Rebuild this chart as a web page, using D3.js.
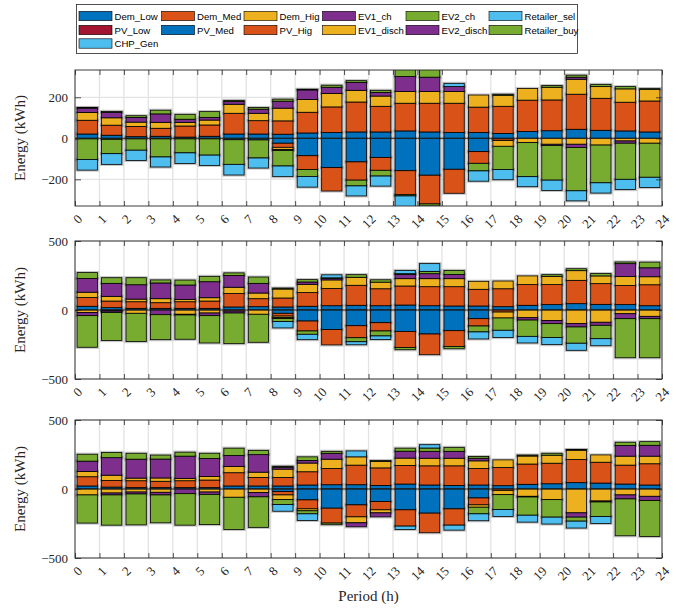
<!DOCTYPE html>
<html>
<head>
<meta charset="utf-8">
<script src="https://cdn.jsdelivr.net/npm/d3@7"></script>
<style>
  body { margin: 0; background: #fff; }
</style>
</head>
<body>
<svg id="chart"></svg>
<script>
// ======================
// DATA
// ======================

const hours = d3.range(24);
const tickLabels = d3.range(25).map(String);

const seriesNames = [
  "Dem_Low", "Dem_Med", "Dem_Hig", "EV1_ch", "EV2_ch", "Retailer_sel",
  "PV_Low", "PV_Med", "PV_Hig", "EV1_disch", "EV2_disch", "Retailer_buy",
  "CHP_Gen"
];
const seriesColors = [
  "#0072BD", "#D95319", "#EDB120", "#7E2F8E", "#77AC30", "#4DBEEE",
  "#A2142F", "#0072BD", "#D95319", "#EDB120", "#7E2F8E", "#77AC30",
  "#4DBEEE"
];

// panel 1
const p1_Dem_Low = [21, 15, 8, 10, 6, 10, 21, 21, 20, 26, 28, 31, 31, 36, 31, 28, 28, 24, 33, 37, 44, 39, 36, 31];
const p1_Dem_Med = [67, 49, 50, 39, 54, 55, 101, 65, 65, 101, 125, 146, 125, 135, 140, 143, 124, 132, 153, 150, 171, 156, 140, 151];
const p1_Dem_Hig = [38, 36, 21, 29, 18, 24, 44, 36, 62, 62, 65, 57, 50, 57, 57, 57, 59, 54, 57, 62, 73, 57, 65, 57];
const p1_EV1_ch = [21, 26, 23, 41, 15, 13, 13, 20, 34, 47, 31, 39, 18, 73, 70, 24, 0, 0, 0, 0, 10, 0, 0, 0];
const p1_EV2_ch = [3, 5, 8, 18, 24, 28, 6, 8, 10, 3, 10, 8, 10, 45, 40, 0, 0, 5, 0, 8, 10, 11, 11, 3];
const p1_Retailer_sel = [0, 0, 0, 0, 0, 0, 0, 0, 0, 0, 0, 0, 0, 0, 0, 16, 0, 0, 0, 0, 0, 0, 0, 0];
const p1_PV_Low = [0, 0, 0, 0, 0, 0, 0, 0, 0, 0, 0, 0, 0, 0, 0, 0, 0, 0, 0, 0, 0, 0, 0, 0];
const p1_PV_Med = [-3, -5, -3, -3, -3, -3, -7, -8, -24, -85, -143, -115, -93, -158, -180, -151, -65, -3, 0, 0, 0, 0, 0, 0];
const p1_PV_Hig = [0, 0, 0, 0, 0, 0, 0, 0, -20, -67, -114, -89, -63, -117, -140, -117, -57, -8, 0, 0, 0, 0, 0, 0];
const p1_EV1_disch = [0, 0, 0, 0, 0, 0, 0, 0, -10, 0, 0, 0, 0, 0, 0, 0, 0, -28, -21, -29, -29, -33, -13, -24];
const p1_EV2_disch = [0, 0, 0, 0, 0, 0, 0, 0, -5, 0, 0, 0, 0, 0, 0, 0, 0, 0, 0, -6, -16, 0, -11, 0];
const p1_Retailer_buy = [-100, -70, -55, -88, -68, -79, -120, -88, -76, -34, 0, -28, -28, -6, -10, 0, -37, -113, -166, -169, -211, -184, -176, -166];
const p1_CHP_Gen = [-52, -52, -50, -49, -52, -50, -52, -49, -52, -52, 0, -49, -49, -52, 0, 0, -50, -50, -49, -50, -49, -50, -50, -50];

// panel 2
const p2_Dem_Low = [27, 17, 12, 12, 12, 12, 22, 24, 22, 27, 31, 34, 31, 36, 31, 29, 29, 24, 34, 39, 46, 41, 39, 31];
const p2_Dem_Med = [63, 48, 48, 41, 48, 53, 97, 58, 65, 99, 125, 145, 123, 138, 138, 140, 121, 130, 150, 145, 169, 150, 138, 152];
const p2_Dem_Hig = [39, 34, 19, 29, 17, 24, 46, 41, 65, 60, 62, 58, 48, 53, 58, 58, 58, 56, 63, 60, 70, 56, 65, 58];
const p2_EV1_ch = [99, 94, 104, 114, 104, 116, 85, 70, 0, 17, 10, 0, 0, 31, 36, 31, 0, 0, 0, 0, 0, 0, 94, 65];
const p2_EV2_ch = [43, 41, 51, 22, 36, 39, 19, 46, 7, 17, 5, 19, 17, 5, 17, 29, 0, 0, 0, 12, 14, 17, 12, 41];
const p2_Retailer_sel = [0, 0, 0, 0, 0, 0, 0, 0, 0, 0, 22, 0, 0, 24, 56, 0, 0, 0, 0, 0, 0, 0, 0, 0];
const p2_PV_Low = [0, 0, 0, 0, 0, 0, 0, 0, 0, 0, 0, 0, 0, 0, 0, 0, 0, 0, 0, 0, 0, 0, 0, 0];
const p2_PV_Med = [0, -3, 0, 0, 0, 0, 0, 0, -24, -80, -142, -114, -92, -155, -174, -150, -63, 0, 0, 0, 0, 0, 0, 0];
const p2_PV_Hig = [0, 0, 0, 0, 0, 0, 0, 0, -20, -72, -111, -87, -60, -116, -150, -114, -53, -15, 0, 0, 0, 0, 0, 0];
const p2_EV1_disch = [-19, -5, -24, 0, -31, -22, -8, -31, -12, 0, 0, 0, 0, 0, 0, 0, 0, -43, -56, -77, -99, -89, -27, -46];
const p2_EV2_disch = [-22, -10, 0, -34, -5, -19, -14, 0, -6, 0, 0, 0, 0, 0, 0, 0, 0, 0, -17, -22, -24, -22, -36, -17];
const p2_Retailer_buy = [-229, -203, -205, -181, -176, -198, -222, -203, -22, -24, 0, -29, -36, -17, 0, -17, -43, -89, -118, -101, -118, -97, -283, -283];
const p2_CHP_Gen = [0, 0, 0, 0, 0, 0, 0, 0, -46, -39, 0, -22, -26, 0, 0, 0, -51, -53, -48, -51, -51, -51, 0, 0];

// panel 3
const p3_Dem_Low = [22, 14, 10, 10, 10, 10, 22, 22, 22, 29, 31, 31, 26, 36, 29, 26, 29, 24, 34, 38, 46, 43, 36, 29];
const p3_Dem_Med = [67, 48, 50, 46, 50, 55, 96, 62, 62, 96, 118, 142, 127, 135, 139, 142, 120, 132, 147, 149, 168, 151, 137, 154];
const p3_Dem_Hig = [38, 38, 19, 24, 17, 26, 46, 38, 60, 63, 67, 60, 46, 53, 55, 55, 55, 55, 58, 58, 67, 53, 65, 55];
const p3_EV1_ch = [75, 127, 137, 137, 161, 130, 79, 127, 14, 19, 43, 0, 0, 50, 50, 50, 19, 0, 0, 0, 0, 0, 77, 79];
const p3_EV2_ch = [50, 38, 43, 29, 29, 38, 53, 31, 7, 26, 14, 0, 7, 22, 24, 29, 12, 0, 7, 14, 5, 0, 24, 26];
const p3_Retailer_sel = [0, 0, 0, 0, 0, 0, 0, 0, 0, 0, 0, 43, 0, 0, 24, 0, 0, 0, 0, 0, 0, 0, 0, 0];
const p3_PV_Low = [0, 0, 0, 0, 0, 0, 0, 0, 0, 0, 0, 0, 0, 0, 0, 0, 0, 0, 0, 0, 0, 0, 0, 0];
const p3_PV_Med = [0, 0, 0, 0, 0, 0, 0, 0, -19, -79, -139, -115, -91, -151, -175, -144, -65, 0, 0, 0, 0, 0, 0, 0];
const p3_PV_Hig = [0, 0, 0, 0, 0, 0, 0, 0, -24, -65, -108, -87, -60, -118, -142, -118, -50, -10, 0, 0, 0, 0, 0, 0];
const p3_EV1_disch = [-43, -29, -22, -24, 0, -22, -60, -26, -34, -14, 0, -43, -22, 0, 0, 0, -17, -31, -53, -77, -173, -87, -43, -53];
const p3_EV2_disch = [0, -14, -14, -19, -34, -17, 0, -31, 0, 0, 0, -29, -29, 0, 0, 0, 0, 0, -5, 0, -31, -7, -29, -31];
const p3_Retailer_buy = [-204, -219, -224, -202, -228, -219, -233, -221, -36, -22, -12, 0, 0, 0, 0, 0, -48, -108, -132, -127, -29, -106, -267, -260];
const p3_CHP_Gen = [0, 0, 0, 0, 0, 0, 0, 0, -48, -48, 0, 0, 0, -24, 0, -36, -50, -50, -50, -50, -50, -50, 0, 0];

const panelSeries = [
  [p1_Dem_Low, p1_Dem_Med, p1_Dem_Hig, p1_EV1_ch, p1_EV2_ch, p1_Retailer_sel,
   p1_PV_Low, p1_PV_Med, p1_PV_Hig, p1_EV1_disch, p1_EV2_disch, p1_Retailer_buy, p1_CHP_Gen],
  [p2_Dem_Low, p2_Dem_Med, p2_Dem_Hig, p2_EV1_ch, p2_EV2_ch, p2_Retailer_sel,
   p2_PV_Low, p2_PV_Med, p2_PV_Hig, p2_EV1_disch, p2_EV2_disch, p2_Retailer_buy, p2_CHP_Gen],
  [p3_Dem_Low, p3_Dem_Med, p3_Dem_Hig, p3_EV1_ch, p3_EV2_ch, p3_Retailer_sel,
   p3_PV_Low, p3_PV_Med, p3_PV_Hig, p3_EV1_disch, p3_EV2_disch, p3_Retailer_buy, p3_CHP_Gen]
];

const yDomains = [[-330, 333], [-500, 500], [-500, 500]];
const yTickValues = [[-200, 0, 200], [-500, 0, 500], [-500, 0, 500]];

// ======================
// LAYOUT
// ======================

const width = 689;
const height = 608;
const plotLeft = 75;
const plotRight = 662;
const panelTops = [70, 241, 420];
const panelBottoms = [206, 379, 558];
const serif = "Liberation Serif, DejaVu Serif, serif";
const sans = "Liberation Sans, Arial, sans-serif";
const axisColor = "#262626";

const svg = d3.select("#chart").attr("width", width).attr("height", height);

const x = d3.scaleLinear().domain([0, 24]).range([plotLeft, plotRight]);
const barWidth = (x(1) - x(0)) * 0.83;

// ======================
// PANELS
// ======================

panelSeries.forEach((series, pi) => {
  const top = panelTops[pi];
  const bottom = panelBottoms[pi];
  const y = d3.scaleLinear().domain(yDomains[pi]).range([bottom, top]);

  const g = svg.append("g");

  g.append("clipPath").attr("id", `clip${pi}`)
    .append("rect")
    .attr("x", plotLeft).attr("y", top)
    .attr("width", plotRight - plotLeft).attr("height", bottom - top);

  // grid
  g.append("g").selectAll("line").data(d3.range(25)).join("line")
    .attr("x1", d => x(d)).attr("x2", d => x(d))
    .attr("y1", top).attr("y2", bottom)
    .attr("stroke", "#e3e3e3").attr("stroke-width", 1.3);
  g.append("g").selectAll("line").data(yTickValues[pi]).join("line")
    .attr("x1", plotLeft).attr("x2", plotRight)
    .attr("y1", d => y(d)).attr("y2", d => y(d))
    .attr("stroke", "#e3e3e3").attr("stroke-width", 1.3);

  // stacked bars
  const rows = hours.map(h => {
    const r = { hour: h };
    seriesNames.forEach((n, k) => { r[n] = series[k][h]; });
    return r;
  });
  const stacked = d3.stack().keys(seriesNames).offset(d3.stackOffsetDiverging)(rows);

  const barsG = g.append("g").attr("clip-path", `url(#clip${pi})`);
  const segs = [];
  stacked.forEach((layer, k) => {
    layer.forEach(d => {
      if (d[0] !== d[1]) segs.push({ k, hour: d.data.hour, y0: d[0], y1: d[1] });
    });
  });

  // soft halo, then the real segments
  barsG.selectAll("rect.halo").data(segs).join("rect")
    .attr("class", "halo")
    .attr("x", d => x(d.hour + 0.5) - barWidth / 2)
    .attr("width", barWidth)
    .attr("y", d => y(Math.max(d.y0, d.y1)))
    .attr("height", d => Math.abs(y(d.y0) - y(d.y1)))
    .attr("fill", "none")
    .attr("stroke", "rgba(0,0,0,0.22)")
    .attr("stroke-width", 3.2);

  barsG.selectAll("rect.seg").data(segs).join("rect")
    .attr("class", "seg")
    .attr("x", d => x(d.hour + 0.5) - barWidth / 2)
    .attr("width", barWidth)
    .attr("y", d => y(Math.max(d.y0, d.y1)))
    .attr("height", d => Math.abs(y(d.y0) - y(d.y1)))
    .attr("fill", d => seriesColors[d.k])
    .attr("stroke", "#000")
    .attr("stroke-width", 0.8);

  // zero line
  g.append("line")
    .attr("x1", plotLeft).attr("x2", plotRight)
    .attr("y1", y(0)).attr("y2", y(0))
    .attr("stroke", axisColor).attr("stroke-width", 0.9);

  // axes (tick marks from d3, labels drawn by hand below)
  const xAxisB = d3.axisBottom(x).tickValues(d3.range(25)).tickFormat("").tickSize(-5);
  g.append("g").attr("transform", `translate(0,${bottom})`).call(xAxisB);

  const xAxisT = d3.axisTop(x).tickValues(d3.range(25)).tickFormat("").tickSize(-5);
  g.append("g").attr("transform", `translate(0,${top})`).call(xAxisT);

  const yAxisL = d3.axisLeft(y).tickValues(yTickValues[pi]).tickFormat("").tickSize(-6);
  g.append("g").attr("transform", `translate(${plotLeft},0)`).call(yAxisL);

  const yAxisR = d3.axisRight(y).tickValues(yTickValues[pi]).tickFormat("").tickSize(-6);
  g.append("g").attr("transform", `translate(${plotRight},0)`).call(yAxisR);

  g.selectAll(".domain").remove();
  g.selectAll(".tick line").attr("stroke", axisColor).attr("stroke-width", 0.8);

  // rotated x labels
  g.append("g").selectAll("text").data(d3.range(25)).join("text")
    .attr("transform", d => `translate(${x(d) + 8},${bottom + 14}) rotate(-45)`)
    .attr("text-anchor", "end")
    .attr("font-family", serif).attr("font-size", 13)
    .attr("fill", axisColor)
    .text(d => tickLabels[d]);

  // y labels
  g.append("g").selectAll("text").data(yTickValues[pi]).join("text")
    .attr("x", plotLeft - 7).attr("y", d => y(d)).attr("dy", "0.35em")
    .attr("text-anchor", "end")
    .attr("font-family", serif).attr("font-size", 13)
    .attr("fill", axisColor)
    .text(d => d < 0 ? "\u2212" + Math.abs(d) : String(d));

  g.append("rect")
    .attr("x", plotLeft).attr("y", top)
    .attr("width", plotRight - plotLeft).attr("height", bottom - top)
    .attr("fill", "none").attr("stroke", axisColor).attr("stroke-width", 0.9);

  g.append("text")
    .attr("transform", `translate(25,${(top + bottom) / 2}) rotate(-90)`)
    .attr("text-anchor", "middle")
    .attr("font-family", serif).attr("font-size", 15)
    .attr("fill", axisColor)
    .text("Energy (kWh)");
});

svg.append("text")
  .attr("x", (plotLeft + plotRight) / 2).attr("y", 601)
  .attr("text-anchor", "middle")
  .attr("font-family", serif).attr("font-size", 15)
  .attr("fill", axisColor)
  .text("Period (h)");

// ======================
// LEGEND
// ======================

const legend = svg.append("g");
legend.append("rect")
  .attr("x", 76.5).attr("y", 4.5).attr("width", 501).attr("height", 49)
  .attr("fill", "#fff").attr("stroke", "#262626").attr("stroke-width", 0.8);

const legendCols = [79, 161.5, 244, 322.5, 406, 489];
const legendRows = [16, 30, 43.5];

const items = legend.selectAll("g.item").data(seriesNames).join("g")
  .attr("class", "item")
  .attr("transform", (d, i) => `translate(${legendCols[i % 6]},${legendRows[Math.floor(i / 6)]})`);
items.append("rect")
  .attr("x", 0).attr("y", -4.7).attr("width", 33).attr("height", 9.4)
  .attr("fill", (d, i) => seriesColors[i])
  .attr("stroke", "#000").attr("stroke-width", 0.6);
items.append("text")
  .attr("x", 35.5).attr("y", 3.6)
  .attr("font-family", sans).attr("font-size", 9.6)
  .attr("fill", "#000")
  .text(d => d);
</script>
</body>
</html>
